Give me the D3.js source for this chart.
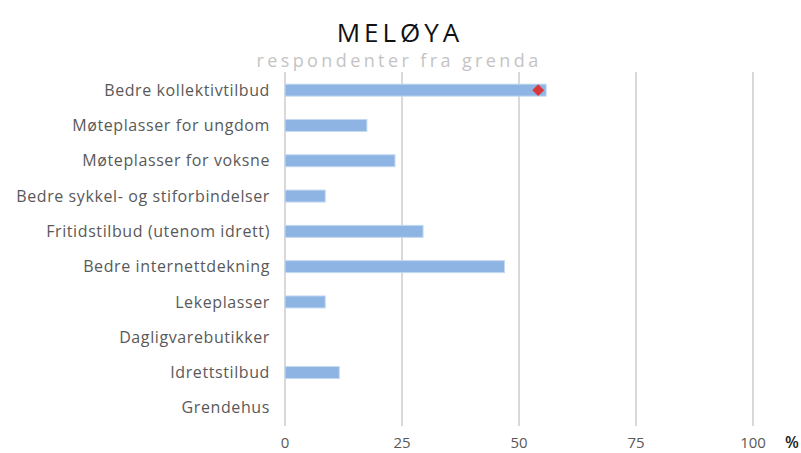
<!DOCTYPE html>
<meta charset="utf-8">
<style>

body {
  margin: 0;
  background: #fff;
}

svg {
  font-family: "Open Sans", sans-serif;
}

</style>
<svg width="801" height="453"></svg>
<script src="https://d3js.org/d3.v7.min.js"></script>
<script>

var categories = [
  "Bedre kollektivtilbud",
  "Møteplasser for ungdom",
  "Møteplasser for voksne",
  "Bedre sykkel- og stiforbindelser",
  "Fritidstilbud (utenom idrett)",
  "Bedre internettdekning",
  "Lekeplasser",
  "Dagligvarebutikker",
  "Idrettstilbud",
  "Grendehus"
];

var values = [55.8, 17.5, 23.5, 8.6, 29.5, 46.9, 8.6, 0, 11.6, 0];

// red marker (only the first category has one)
var markers = [{category: "Bedre kollektivtilbud", value: 54.1}];

var ticks = [0, 25, 50, 75, 100];

var svg = d3.select("svg");

var x = d3.scaleLinear()
    .domain([0, 100])
    .range([285, 753]);

var y = d3.scaleBand()
    .domain(categories)
    .range([72.5, 425.5])
    .paddingInner(0.66)
    .paddingOuter(0.33);

// gridlines
svg.append("g")
  .selectAll("line")
  .data(ticks)
  .join("line")
    .attr("x1", function(d) { return x(d); })
    .attr("x2", function(d) { return x(d); })
    .attr("y1", 72)
    .attr("y2", 426)
    .attr("stroke", "#d9d9d9")
    .attr("stroke-width", 2);

// bars
svg.append("g")
  .selectAll("rect")
  .data(values)
  .join("rect")
    .attr("x", x(0))
    .attr("y", function(d, i) { return y(categories[i]); })
    .attr("width", function(d) { return x(d) - x(0); })
    .attr("height", y.bandwidth())
    .attr("fill", "#8eb4e3")
    .attr("stroke", function(d) { return d > 0 ? "#c5d9f1" : "none"; })
    .attr("stroke-width", 1);

// diamond markers
svg.append("g")
  .selectAll("path")
  .data(markers)
  .join("path")
    .attr("transform", function(d) {
      return "translate(" + x(d.value) + "," + (y(d.category) + y.bandwidth() / 2) + ")";
    })
    .attr("d", d3.symbol(d3.symbolDiamond2, 90))
    .attr("fill", "#d9383a");

// category labels
svg.append("g")
  .selectAll("text")
  .data(categories)
  .join("text")
    .attr("x", 270)
    .attr("y", function(d) { return y(d) + y.bandwidth() / 2; })
    .attr("dy", "0.35em")
    .attr("text-anchor", "end")
    .attr("font-size", 16)
    .attr("letter-spacing", 0.6)
    .attr("fill", "#595959")
    .text(function(d) { return d; });

// x tick labels
svg.append("g")
  .selectAll("text")
  .data(ticks)
  .join("text")
    .attr("x", function(d) { return x(d); })
    .attr("y", 443)
    .attr("dy", "0.35em")
    .attr("text-anchor", "middle")
    .attr("font-size", 15)
    .attr("fill", "#595959")
    .text(function(d) { return d; });

svg.append("text")
    .attr("x", 792)
    .attr("y", 442)
    .attr("dy", "0.35em")
    .attr("text-anchor", "middle")
    .attr("font-size", 16)
    .attr("font-weight", 600)
    .attr("fill", "#222")
    .text("%");

// title
svg.append("text")
    .attr("x", 400)
    .attr("y", 33)
    .attr("dy", "0.35em")
    .attr("text-anchor", "middle")
    .attr("font-size", 26)
    .attr("letter-spacing", 4)
    .attr("fill", "#111")
    .text("MELØYA");

svg.append("text")
    .attr("x", 399)
    .attr("y", 61)
    .attr("dy", "0.35em")
    .attr("text-anchor", "middle")
    .attr("font-size", 18)
    .attr("letter-spacing", 3.4)
    .attr("fill", "#c4c4c4")
    .text("respondenter fra grenda");

</script>
